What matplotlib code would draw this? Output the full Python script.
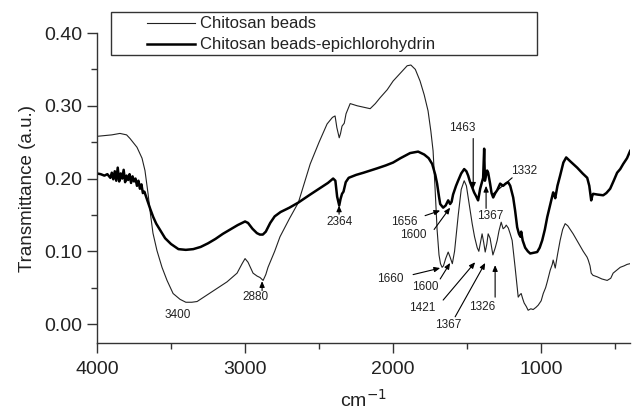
import matplotlib
matplotlib.use("Agg")
import matplotlib.pyplot as plt
from matplotlib.patches import Rectangle
from matplotlib.lines import Line2D
from matplotlib.ticker import MultipleLocator

plt.rcParams['font.family'] = ['Liberation Sans', 'DejaVu Sans']

# ---- data ----
thin_wn = [4000, 3950, 3900, 3845, 3800, 3777, 3730, 3696, 3676, 3655, 3642, 3622, 3595, 3561,
           3527, 3486, 3439, 3400, 3360, 3324, 3257, 3189, 3122, 3054, 3020, 3000, 2980, 2946,
           2919, 2899, 2878, 2860, 2845, 2800, 2764, 2700, 2640, 2560, 2500, 2446, 2410, 2392,
           2380, 2364, 2355, 2345, 2330, 2318, 2290, 2243, 2200, 2155, 2120, 2088, 2040, 2000,
           1950, 1905, 1880, 1850, 1818, 1790, 1764, 1745, 1730, 1715, 1703, 1690, 1680, 1669,
           1660, 1645, 1628, 1615, 1600, 1585, 1560, 1540, 1520, 1505, 1490, 1466, 1450, 1432,
           1421, 1410, 1399, 1388, 1378, 1367, 1358, 1345, 1326, 1310, 1297, 1285, 1270, 1257,
           1245, 1236, 1222, 1209, 1196, 1176, 1155, 1145, 1135, 1125, 1115, 1100, 1088, 1070,
           1054, 1035, 1020, 1000, 986, 970, 959, 939, 925, 919, 912, 905, 890, 872, 855, 838,
           820, 800, 784, 750, 716, 690, 682, 670, 662, 650, 622, 590, 554, 530, 514, 490, 466,
           440, 420, 400]
thin_val = [0.258, 0.259, 0.260, 0.262, 0.260, 0.255, 0.243, 0.228, 0.211, 0.179, 0.156, 0.125,
            0.101, 0.078, 0.060, 0.042, 0.034, 0.030, 0.030, 0.031, 0.040, 0.049, 0.058, 0.070,
            0.083, 0.090, 0.085, 0.070, 0.066, 0.064, 0.060, 0.068, 0.078, 0.100, 0.120, 0.145,
            0.167, 0.220, 0.250, 0.275, 0.284, 0.286, 0.270, 0.256, 0.262, 0.272, 0.276, 0.289,
            0.303, 0.300, 0.298, 0.296, 0.303, 0.311, 0.322, 0.334, 0.345, 0.355, 0.356, 0.350,
            0.334, 0.315, 0.293, 0.265, 0.238, 0.180, 0.130, 0.095, 0.083, 0.078, 0.080, 0.090,
            0.099, 0.092, 0.083, 0.100, 0.150, 0.185, 0.197, 0.190, 0.170, 0.138, 0.120, 0.105,
            0.100, 0.112, 0.124, 0.112, 0.099, 0.110, 0.124, 0.118, 0.095, 0.105, 0.115, 0.128,
            0.140, 0.131, 0.133, 0.136, 0.132, 0.124, 0.115, 0.078, 0.037, 0.040, 0.042, 0.035,
            0.029, 0.024, 0.019, 0.021, 0.020, 0.023, 0.026, 0.032, 0.042, 0.050, 0.058, 0.074,
            0.082, 0.088, 0.083, 0.077, 0.095, 0.115, 0.130, 0.138, 0.135, 0.129, 0.124, 0.112,
            0.100, 0.092, 0.088, 0.080, 0.070, 0.067, 0.065, 0.062, 0.060, 0.063, 0.070, 0.074,
            0.078, 0.080, 0.082, 0.083]

thick_wn = [4000, 3975, 3950, 3930, 3910, 3900, 3890, 3880, 3870, 3860, 3850, 3840, 3830, 3820,
            3810, 3800, 3790, 3780, 3770, 3760, 3750, 3740, 3730, 3720, 3710, 3700, 3690, 3680,
            3660, 3640, 3620, 3600, 3570, 3540, 3500, 3450, 3400, 3350, 3300, 3250, 3200, 3150,
            3100, 3050, 3020, 3000, 2980, 2950, 2920, 2900, 2880, 2860, 2830, 2800, 2760, 2700,
            2640, 2560, 2500, 2440, 2405, 2390, 2378, 2364, 2355, 2345, 2335, 2320, 2300, 2250,
            2200, 2108, 2050, 2000, 1950, 1885, 1831, 1790, 1760, 1736, 1715, 1703, 1690, 1682,
            1662, 1645, 1628, 1615, 1605, 1595, 1575, 1561, 1540, 1520, 1505, 1493, 1480, 1466,
            1453, 1440, 1426, 1412, 1400, 1392, 1385, 1380, 1372, 1365, 1358, 1345, 1335, 1324,
            1310, 1297, 1277, 1257, 1240, 1223, 1209, 1189, 1176, 1162, 1150, 1140, 1135, 1125,
            1108, 1090, 1074, 1050, 1027, 1010, 993, 975, 959, 940, 925, 919, 912, 905, 890, 872,
            850, 831, 800, 757, 720, 689, 675, 662, 655, 649, 620, 581, 560, 534, 510, 487, 466,
            446, 420, 399]
thick_val = [0.207, 0.206, 0.204, 0.206, 0.201, 0.208, 0.199, 0.210, 0.197, 0.215, 0.196, 0.207,
             0.200, 0.212, 0.195, 0.204, 0.198, 0.206, 0.194, 0.203, 0.196, 0.200, 0.190, 0.197,
             0.186, 0.192, 0.180, 0.182, 0.170, 0.158, 0.147, 0.138, 0.128, 0.118, 0.110, 0.103,
             0.102, 0.103, 0.106, 0.111, 0.117, 0.124, 0.130, 0.136, 0.139, 0.141, 0.139, 0.131,
             0.125, 0.123, 0.123, 0.127, 0.139, 0.148, 0.154, 0.160, 0.167, 0.178, 0.186, 0.194,
             0.200, 0.197, 0.175, 0.163, 0.172, 0.179, 0.182, 0.195, 0.201, 0.205, 0.208, 0.214,
             0.218, 0.222, 0.228, 0.235, 0.237, 0.233, 0.228, 0.220, 0.205, 0.193, 0.175, 0.165,
             0.160, 0.163, 0.170, 0.165, 0.168, 0.178, 0.190, 0.197, 0.207, 0.213, 0.210, 0.204,
             0.195, 0.188, 0.181, 0.176, 0.170, 0.186, 0.195, 0.201, 0.241, 0.197, 0.205, 0.211,
             0.208, 0.193, 0.180, 0.174, 0.180, 0.184, 0.193, 0.190, 0.193, 0.195, 0.190, 0.174,
             0.156, 0.133, 0.124, 0.120, 0.127, 0.115, 0.105, 0.100, 0.097, 0.098, 0.099, 0.105,
             0.115, 0.130, 0.147, 0.163, 0.175, 0.181, 0.178, 0.173, 0.190, 0.204, 0.222, 0.229,
             0.223, 0.215, 0.207, 0.201, 0.190, 0.170, 0.176, 0.179, 0.178, 0.177, 0.180, 0.186,
             0.197, 0.208, 0.213, 0.220, 0.228, 0.238]

series_labels = ["Chitosan beads", "Chitosan beads-epichlorohydrin"]
x_ticks = [4000, 3000, 2000, 1000]
y_ticks = [0.00, 0.10, 0.20, 0.30, 0.40]

# annotations: label, text (wn, val), arrow tail, arrow tip
annotations = [
    ("3400", (3453, 0.012), None, None),
    ("2880", (2932, 0.037), (2885, 0.046), (2885, 0.059)),
    ("2364", (2365, 0.140), (2365, 0.151), (2365, 0.163)),
    ("1656", (1926, 0.140), (1784, 0.149), (1682, 0.156)),
    ("1600", (1865, 0.122), (1723, 0.130), (1615, 0.160)),
    ("1660", (2020, 0.062), (1865, 0.068), (1682, 0.077)),
    ("1600", (1784, 0.051), (1682, 0.062), (1615, 0.084)),
    ("1421", (1804, 0.022), (1662, 0.033), (1446, 0.085)),
    ("1367", (1628, -0.001), (1581, 0.010), (1378, 0.084)),
    ("1326", (1399, 0.023), (1311, 0.037), (1311, 0.081)),
    ("1463", (1534, 0.270), (1459, 0.255), (1459, 0.186)),
    ("1367", (1345, 0.149), (1372, 0.159), (1372, 0.190)),
]
line_note = ("1332", (1115, 0.210), (1196, 0.201), (1324, 0.179))

W, H = 632, 411
fig = plt.figure(figsize=(W / 100, H / 100), dpi=100)
ax = fig.add_axes([97 / W, 1 - 343 / H, (630 - 97) / W, (343 - 33) / H])

ax.plot(thin_wn, thin_val, color='#222222', lw=0.8)
ax.plot(thick_wn, thick_val, color='black', lw=1.8)

ax.set_xlim(4000, 400)
ax.set_ylim(-0.026, 0.40)
ax.set_xticks(x_ticks)
ax.set_xticklabels([str(t) for t in x_ticks])
ax.xaxis.set_minor_locator(MultipleLocator(500))
ax.set_yticks(y_ticks)
ax.set_yticklabels([f"{t:.2f}" for t in y_ticks])
ax.yaxis.set_minor_locator(MultipleLocator(0.05))
for s in ['top', 'right']:
    ax.spines[s].set_visible(False)
for s in ['left', 'bottom']:
    ax.spines[s].set_linewidth(1.0)
    ax.spines[s].set_color('#333333')
ax.tick_params(which='major', direction='out', length=7, width=1.0, labelsize=14,
               colors='#333333', labelcolor='#222222')
ax.tick_params(which='minor', direction='out', length=4, width=1.0, colors='#333333')
ax.tick_params(axis='x', pad=6)
ax.set_ylabel("Transmittance (a.u.)", fontsize=13.5, color='#222222', labelpad=6)
ax.set_xlabel("cm$^{-1}$", fontsize=14, color='#222222', labelpad=8)

for label, txt, tail, tip in annotations:
    ax.text(txt[0], txt[1], label, fontsize=8.5, ha='center', va='center', color='#222222')
    if tail is not None:
        ax.annotate('', xy=tip, xytext=tail,
                    arrowprops=dict(arrowstyle='-|>,head_length=0.35,head_width=0.15',
                                    color='black', lw=0.8, shrinkA=0, shrinkB=0))
lbl, txt, tail, tip = line_note
ax.text(txt[0], txt[1], lbl, fontsize=8.5, ha='center', va='center', color='#222222')
ax.annotate('', xy=tip, xytext=tail,
            arrowprops=dict(arrowstyle='-', color='black', lw=0.8, shrinkA=0, shrinkB=0))

# legend box (figure coords)
fig.add_artist(Rectangle((111 / W, 1 - 55 / H), (537 - 111) / W, (55 - 12) / H,
                         transform=fig.transFigure, fill=False, edgecolor='#333333', lw=1.0))
rows = [(23.5, 0.8, '#222222'), (44, 1.8, 'black')]
for (yp, lw, c), lab in zip(rows, series_labels):
    fig.add_artist(Line2D([147 / W, 195 / W], [1 - yp / H, 1 - yp / H],
                          transform=fig.transFigure, color=c, lw=lw))
    fig.text(200 / W, 1 - yp / H, lab, fontsize=12, va='center', ha='left', color='#222222')

fig.savefig("out.png", dpi=100)
